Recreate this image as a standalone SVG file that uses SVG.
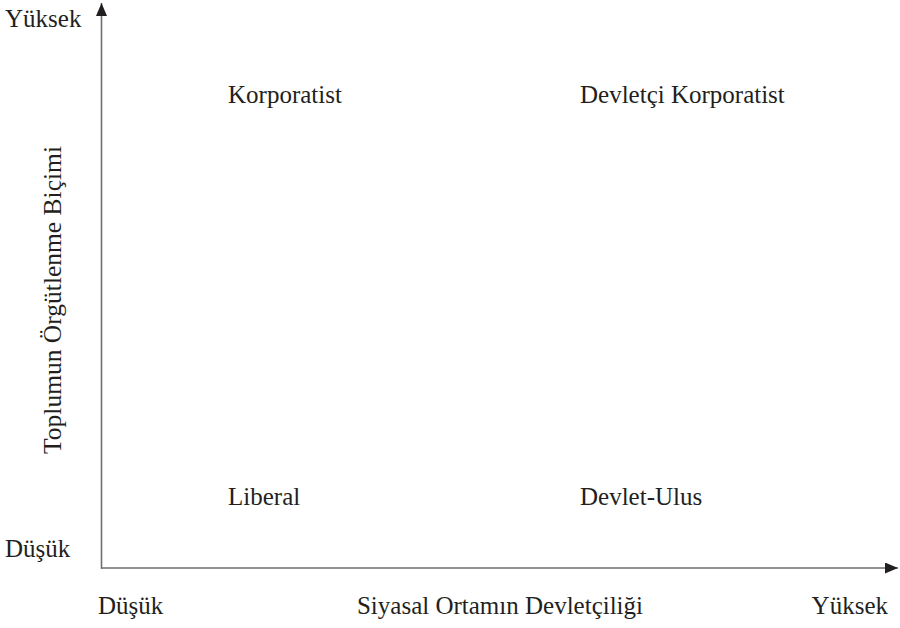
<svg xmlns="http://www.w3.org/2000/svg" width="900" height="628" viewBox="0 0 900 628">
  <style>
    .t { font-family: "Liberation Serif", "DejaVu Serif", serif; font-size: 25px; fill: #231f20; }
    .axis { stroke: #6d6e71; stroke-width: 1.6; fill: none; }
  </style>
  <defs>
    <marker id="arr" viewBox="0 0 13 11" refX="13" refY="5.5" markerWidth="13" markerHeight="11" markerUnits="userSpaceOnUse" orient="auto">
      <path d="M0,0 L13,5.5 L0,11 Z" fill="#231f20"/>
    </marker>
  </defs>
  <rect width="900" height="628" fill="#ffffff"/>
  <g id="connectors">
    <line class="axis" x1="101.5" y1="568.8" x2="101.5" y2="3" marker-end="url(#arr)"/>
    <line class="axis" x1="101" y1="568" x2="898" y2="568" marker-end="url(#arr)"/>
  </g>
  <g id="axis-labels">
    <text class="t" x="5" y="27">Yüksek</text>
    <text class="t" x="5" y="557">Düşük</text>
    <text class="t" x="98" y="614">Düşük</text>
    <text class="t" x="500" y="614" text-anchor="middle">Siyasal Ortamın Devletçiliği</text>
    <text class="t" x="888" y="614" text-anchor="end">Yüksek</text>
    <text class="t" transform="translate(61,300) rotate(-90)" text-anchor="middle" style="font-size:25.5px">Toplumun Örgütlenme Biçimi</text>
  </g>
  <g id="korporatist"><text class="t" x="228" y="103">Korporatist</text></g>
  <g id="devletci-korporatist"><text class="t" x="580" y="103">Devletçi Korporatist</text></g>
  <g id="liberal"><text class="t" x="228" y="505">Liberal</text></g>
  <g id="devlet-ulus"><text class="t" x="580" y="505">Devlet-Ulus</text></g>
</svg>
